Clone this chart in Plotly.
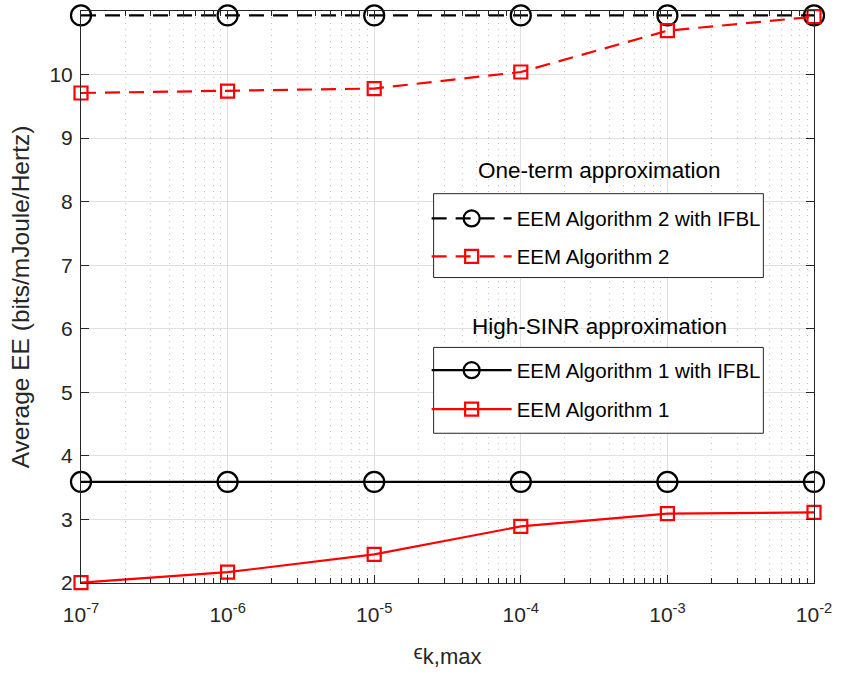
import plotly.graph_objects as go

x_vals = [1e-7, 1e-6, 1e-5, 1e-4, 1e-3, 1e-2]
alg2_ifbl = [10.93, 10.93, 10.93, 10.93, 10.93, 10.93]
alg2 = [9.71, 9.74, 9.78, 10.04, 10.69, 10.91]
alg1_ifbl = [3.59, 3.59, 3.59, 3.59, 3.59, 3.59]
alg1 = [2.005, 2.17, 2.45, 2.89, 3.09, 3.11]

x_tickvals = [1e-7, 1e-6, 1e-5, 1e-4, 1e-3, 1e-2]
x_ticktext = ["10<sup>-7</sup>", "10<sup>-6</sup>", "10<sup>-5</sup>",
              "10<sup>-4</sup>", "10<sup>-3</sup>", "10<sup>-2</sup>"]
x_minor = [k * 10.0 ** e for e in range(-7, -2) for k in range(2, 10)]
y_tickvals = [2, 3, 4, 5, 6, 7, 8, 9, 10, 11]

FONT = "Liberation Sans, Arial, Helvetica"
dash = "15px,9px"
LW = 2.2

L, R, T, B = 81, 23, 10, 91
W, H = 842, 674
pw, ph = W - L - R, H - T - B


def px(xp):
    return (xp - L) / pw


def py(yp):
    return (H - B - yp) / ph


fig = go.Figure()
fig.add_trace(go.Scatter(x=x_vals, y=alg2_ifbl, mode="lines+markers", cliponaxis=False,
                         name="EEM Algorithm 2 with IFBL", legend="legend",
                         line=dict(color="black", width=LW, dash=dash),
                         marker=dict(symbol="circle-open", size=20, color="black",
                                     line=dict(width=LW))))
fig.add_trace(go.Scatter(x=x_vals, y=alg2, mode="lines+markers", cliponaxis=False,
                         name="EEM Algorithm 2", legend="legend2",
                         line=dict(color="red", width=LW, dash=dash),
                         marker=dict(symbol="square-open", size=13, color="red",
                                     line=dict(width=LW))))
fig.add_trace(go.Scatter(x=x_vals, y=alg1_ifbl, mode="lines+markers", cliponaxis=False,
                         name="EEM Algorithm 1 with IFBL", legend="legend3",
                         line=dict(color="black", width=LW),
                         marker=dict(symbol="circle-open", size=20, color="black",
                                     line=dict(width=LW))))
fig.add_trace(go.Scatter(x=x_vals, y=alg1, mode="lines+markers", cliponaxis=False,
                         name="EEM Algorithm 1", legend="legend4",
                         line=dict(color="red", width=LW),
                         marker=dict(symbol="square-open", size=13, color="red",
                                     line=dict(width=LW))))

legend_common = dict(bgcolor="rgba(0,0,0,0)", borderwidth=0,
                     font=dict(family=FONT, size=20.5, color="#000000"),
                     xanchor="left", yanchor="middle", itemwidth=80)

entry_x = px(429)
fig.update_layout(
    width=W, height=H,
    margin=dict(l=L, r=R, t=T, b=B),
    paper_bgcolor="white", plot_bgcolor="white",
    font=dict(family=FONT, color="#262626"),
    showlegend=True,
    legend=dict(x=entry_x, y=py(218), **legend_common),
    legend2=dict(x=entry_x, y=py(256), **legend_common),
    legend3=dict(x=entry_x, y=py(370), **legend_common),
    legend4=dict(x=entry_x, y=py(409), **legend_common),
    xaxis=dict(type="log", range=[-7, -1.99999], tickmode="array",
               tickvals=x_tickvals, ticktext=x_ticktext,
               tickfont=dict(family=FONT, size=21, color="#262626"),
               ticklabelstandoff=13,
               showline=True, linecolor="#262626", linewidth=1, mirror="ticks",
               ticks="inside", ticklen=8, tickcolor="#262626",
               showgrid=True, gridcolor="#e0e0e0", gridwidth=1,
               minor=dict(tickmode="array", tickvals=x_minor,
                          ticks="inside", ticklen=5, tickcolor="#262626",
                          showgrid=True, gridcolor="#c4c4c4", griddash="1px,5px",
                          gridwidth=1),
               title=dict(text="<span style='font-size:21px'>ϵ</span><sub><span style='font-size:22px'>k,max</span></sub>",
                          font=dict(family=FONT, size=22, color="#262626"),
                          standoff=18),
               zeroline=False),
    yaxis=dict(range=[2, 11], tickvals=y_tickvals,
               tickfont=dict(family=FONT, size=21, color="#262626"),
               ticklabelstandoff=3,
               showline=True, linecolor="#262626", linewidth=1, mirror="ticks",
               ticks="inside", ticklen=8, tickcolor="#262626",
               showgrid=True, gridcolor="#e0e0e0", gridwidth=1,
               title=dict(text="Average EE (bits/mJoule/Hertz)",
                          font=dict(family=FONT, size=24.5, color="#262626"),
                          standoff=12),
               zeroline=False),
    shapes=[
        dict(type="rect", xref="paper", yref="paper",
             x0=px(436), x1=px(768), y0=py(277), y1=py(193),
             fillcolor="white", line=dict(color="#262626", width=1), layer="above"),
        dict(type="rect", xref="paper", yref="paper",
             x0=px(436), x1=px(768), y0=py(433), y1=py(347),
             fillcolor="white", line=dict(color="#262626", width=1), layer="above"),
    ],
    annotations=[
        dict(text="One-term approximation", x=px(603), y=py(170), xref="paper", yref="paper",
             showarrow=False, font=dict(family=FONT, size=22.5, color="#000000"),
             xanchor="center", yanchor="middle"),
        dict(text="High-SINR approximation", x=px(603), y=py(326), xref="paper", yref="paper",
             showarrow=False, font=dict(family=FONT, size=22.5, color="#000000"),
             xanchor="center", yanchor="middle"),
    ],
)

fig.write_html("out.html")
